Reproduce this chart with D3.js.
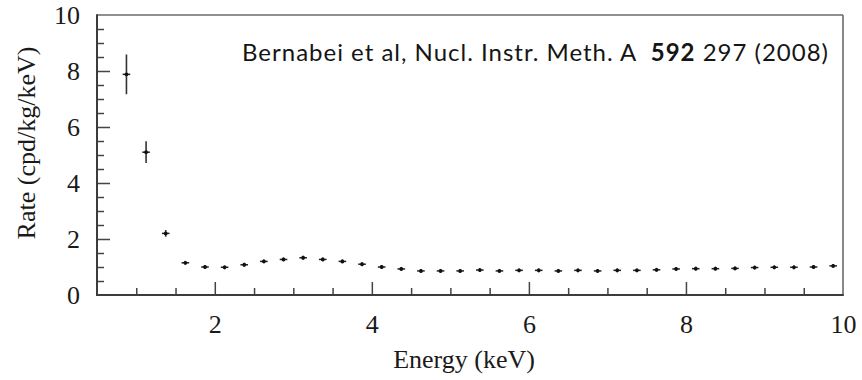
<!DOCTYPE html>
<html>
<head>
<meta charset="utf-8">
<script src="https://cdn.jsdelivr.net/npm/d3@7/dist/d3.min.js"></script>
<style>
  body { margin: 0; background: #fff; }
  svg { display: block; }
  .serif { font-family: "Liberation Serif", "DejaVu Serif", serif; fill: #1a1a1a; }
</style>
</head>
<body>
<svg id="chart" width="862" height="380"></svg>
<script>
// Bin centres (keV) of the measured energy spectrum
const energies = [
  0.875, 1.125, 1.375, 1.625, 1.875, 2.125, 2.375, 2.625, 2.875, 3.125,
  3.375, 3.625, 3.875, 4.125, 4.375, 4.625, 4.875, 5.125, 5.375, 5.625,
  5.875, 6.125, 6.375, 6.625, 6.875, 7.125, 7.375, 7.625, 7.875, 8.125,
  8.375, 8.625, 8.875, 9.125, 9.375, 9.625, 9.875
];
// Counting rate per bin (cpd/kg/keV)
const rates = [
  7.88, 5.10, 2.20, 1.15, 1.00, 0.99, 1.08, 1.20, 1.27, 1.33,
  1.27, 1.20, 1.10, 1.00, 0.93, 0.86, 0.86, 0.86, 0.89, 0.86,
  0.88, 0.88, 0.86, 0.88, 0.86, 0.88, 0.88, 0.90, 0.93, 0.94,
  0.94, 0.95, 0.98, 0.99, 0.99, 1.00, 1.04
];
// Statistical uncertainty of each rate
const rateErrors = [
  0.71, 0.39, 0.12, 0.07, 0.07, 0.07, 0.07, 0.07, 0.07, 0.07,
  0.07, 0.07, 0.07, 0.07, 0.07, 0.07, 0.07, 0.07, 0.07, 0.07,
  0.07, 0.07, 0.07, 0.07, 0.07, 0.07, 0.07, 0.07, 0.07, 0.07,
  0.07, 0.07, 0.07, 0.07, 0.07, 0.07, 0.07
];
const xTickValues = [2, 4, 6, 8, 10];
const xMinorTicks = [1, 1.5, 2.5, 3, 3.5, 4.5, 5, 5.5, 6.5, 7, 7.5, 8.5, 9, 9.5];
const yTickValues = [0, 2, 4, 6, 8, 10];
const yMinorTicks = [0.5, 1, 1.5, 2.5, 3, 3.5, 4.5, 5, 5.5, 6.5, 7, 7.5, 8.5, 9, 9.5];
const xTitle = "Energy (keV)";
const yTitle = "Rate (cpd/kg/keV)";
const citationParts = [
  { text: "Bernabei et al, Nucl. Instr. Meth. A\u00a0 ", bold: false },
  { text: "592", bold: true },
  { text: " 297 (2008)", bold: false }
];

const svg = d3.select("#chart");
const plot = { left: 97, top: 15, right: 843, bottom: 295 };

const x = d3.scaleLinear().domain([0.5, 10]).range([plot.left, plot.right]);
const y = d3.scaleLinear().domain([0, 10]).range([plot.bottom, plot.top]);

const tickColor = "#444";
const fontSize = 26;

// Bottom axis: inward minor and major ticks
const xMinor = svg.append("g")
  .attr("transform", `translate(0,${plot.bottom})`)
  .call(d3.axisBottom(x).tickValues(xMinorTicks).tickSize(-7).tickFormat(""));
const xMajor = svg.append("g")
  .attr("transform", `translate(0,${plot.bottom})`)
  .call(d3.axisBottom(x).tickValues(xTickValues).tickSize(-13).tickFormat(d3.format("d")));

// Left axis: inward minor and major ticks
const yMinor = svg.append("g")
  .attr("transform", `translate(${plot.left},0)`)
  .call(d3.axisLeft(y).tickValues(yMinorTicks).tickSize(-7).tickFormat(""));
const yMajor = svg.append("g")
  .attr("transform", `translate(${plot.left},0)`)
  .call(d3.axisLeft(y).tickValues(yTickValues).tickSize(-13).tickFormat(d3.format("d")));

[xMinor, xMajor, yMinor, yMajor].forEach(g => {
  g.select(".domain").remove();
  g.selectAll(".tick line").attr("stroke", tickColor).attr("stroke-width", 1.5);
  g.selectAll("text").attr("class", "serif").attr("font-size", fontSize);
});
// Endpoint ticks sit on the frame itself
xMajor.selectAll(".tick").filter(d => d === 10).select("line").remove();
yMajor.selectAll(".tick").filter(d => d === 0 || d === 10).select("line").remove();

xMajor.selectAll("text").attr("y", 19.5).attr("dy", "0.71em");
yMajor.selectAll("text").attr("x", -17).attr("dy", "0.33em");

// Frame: dark left/bottom axes, lighter top/right border
svg.append("line").attr("x1", plot.left).attr("x2", plot.right)
  .attr("y1", plot.top).attr("y2", plot.top)
  .attr("stroke", "#6a6a6a").attr("stroke-width", 1.6);
svg.append("line").attr("x1", plot.right).attr("x2", plot.right)
  .attr("y1", plot.top).attr("y2", plot.bottom)
  .attr("stroke", "#6a6a6a").attr("stroke-width", 1.6);
svg.append("line").attr("x1", plot.left).attr("x2", plot.left)
  .attr("y1", plot.top - 0.8).attr("y2", plot.bottom + 1)
  .attr("stroke", "#3c3c3c").attr("stroke-width", 2);
svg.append("line").attr("x1", plot.left - 1).attr("x2", plot.right + 0.8)
  .attr("y1", plot.bottom).attr("y2", plot.bottom)
  .attr("stroke", "#3c3c3c").attr("stroke-width", 2);

// Axis titles
svg.append("text").attr("class", "serif")
  .attr("x", 464).attr("y", 368)
  .attr("text-anchor", "middle").attr("font-size", fontSize)
  .text(xTitle);
svg.append("text").attr("class", "serif")
  .attr("transform", "translate(35,143) rotate(-90)")
  .attr("text-anchor", "middle").attr("font-size", fontSize)
  .text(yTitle);

// Data points with error bars
const points = energies.map((e, i) => ({ e, r: rates[i], err: rateErrors[i] }));
const pts = svg.append("g").selectAll("g").data(points).join("g");
pts.append("line")
  .attr("x1", d => x(d.e)).attr("x2", d => x(d.e))
  .attr("y1", d => y(d.r + d.err)).attr("y2", d => y(d.r - d.err))
  .attr("stroke", "#333").attr("stroke-width", 1.6);
pts.append("line")
  .attr("x1", d => x(d.e) - 3.8).attr("x2", d => x(d.e) + 3.8)
  .attr("y1", d => y(d.r)).attr("y2", d => y(d.r))
  .attr("stroke", "#222").attr("stroke-width", 1.5);
pts.append("circle")
  .attr("cx", d => x(d.e)).attr("cy", d => y(d.r)).attr("r", 1.9)
  .attr("fill", "#111");

// Citation, spread to span the upper part of the frame
const citeStart = 242, citeEnd = 828;
const cite = svg.append("text")
  .attr("x", citeStart).attr("y", 61)
  .attr("font-family", "Lato, 'Open Sans', sans-serif")
  .attr("font-size", 24).attr("fill", "#151515")
  .style("white-space", "pre");
cite.selectAll("tspan").data(citationParts).join("tspan")
  .attr("font-weight", d => d.bold ? "bold" : "normal")
  .text(d => d.text);
const natural = cite.node().getComputedTextLength();
const nChars = citationParts.map(p => p.text).join("").length;
cite.attr("letter-spacing", Math.max(0, (citeEnd - citeStart - natural) / (nChars - 1)));
</script>
</body>
</html>
